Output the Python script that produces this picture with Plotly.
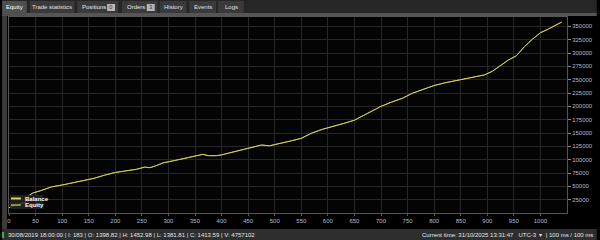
import plotly.graph_objects as go

# ---- data ----
trade_index = [0, 10, 20, 30, 38, 45, 60, 80, 100, 120, 140, 160, 180, 200, 220, 240, 255, 265,
               275, 290, 310, 330, 350, 365, 375, 390, 400, 420, 440, 460, 475, 490, 510, 530,
               550, 570, 590, 610, 630, 650, 670, 690, 700, 720, 740, 760, 780, 800, 820, 840,
               860, 880, 895, 910, 925, 940, 955, 970, 985, 1000, 1015, 1025, 1040]
balance = [10000, 13000, 16000, 20000, 33000, 37500, 42000, 49000, 52500, 56500, 60500, 65000,
           71000, 76000, 79000, 82000, 86000, 85000, 88000, 94000, 98000, 102000, 106000, 110000,
           107500, 107500, 109000, 114000, 119000, 124000, 127500, 126000, 130000, 135000,
           140000, 150000, 157000, 162000, 168000, 174000, 185000, 196000, 200000, 208000,
           215000, 225000, 232000, 239000, 244000, 248000, 251000, 255000, 259000, 266000,
           276000, 287000, 295000, 312000, 326000, 338000, 345000, 350000, 358000]
equity = [10000, 13000, 16000, 20000, 33000, 37500, 42000, 49000, 52500, 56500, 60500, 65000,
          71000, 76000, 79000, 82000, 86000, 85000, 88000, 94000, 98000, 102000, 106000, 110000,
          107500, 107500, 109000, 114000, 119000, 124000, 127500, 126000, 130000, 135000,
          140000, 150000, 157000, 162000, 168000, 174000, 185000, 196000, 200000, 208000,
          215000, 225000, 232000, 239000, 244000, 248000, 251000, 255000, 259000, 266000,
          276000, 287000, 295000, 312000, 326000, 338000, 345000, 350000, 358000]

series_names = ["Balance", "Equity"]
series_colors = ["#d6d64a", "#8e8e4e"]

x_ticks = list(range(0, 1001, 50))
y_ticks = list(range(25000, 350001, 25000))

tabs = ["Equity", "Trade statistics", "Positions", "Orders", "History", "Events", "Logs"]
tab_badges = {"Positions": "0", "Orders": "3"}
status_left = "30/08/2019 18:00:00 | I: 183 | O: 1398.82 | H: 1452.98 | L: 1381.81 | C: 1413.59 | V: 4757102"
status_right = "Current time: 31/10/2025 13:31:47   UTC-3  \u25be  | 100 ms / 100 ms"

# ---- layout geometry (pixels) ----
W, H = 600, 240
L, R, T, B = 7, 30, 17, 27
PW, PH = W - L - R, H - T - B


def px(x):
    return (x - L) / PW


def py(y):
    return 1 - (y - T) / PH


FONT = "Liberation Sans, Arial, sans-serif"

fig = go.Figure()
fig.add_trace(go.Scatter(x=trade_index, y=equity, name=series_names[1], mode="lines",
                         line=dict(color=series_colors[1], width=1), showlegend=False))
fig.add_trace(go.Scatter(x=trade_index, y=balance, name=series_names[0], mode="lines",
                         line=dict(color=series_colors[0], width=1), showlegend=False))

shapes = []
annotations = []
# tab bar background
shapes.append(dict(type="rect", xref="paper", yref="paper", x0=px(0), x1=px(W), y0=py(13), y1=py(0),
                   fillcolor="#262626", line_width=0, layer="below"))
# strip under tabs
shapes.append(dict(type="rect", xref="paper", yref="paper", x0=px(0), x1=px(W), y0=py(16), y1=py(13),
                   fillcolor="#555555", line_width=0, layer="below"))
# left border
shapes.append(dict(type="rect", xref="paper", yref="paper", x0=px(0), x1=px(5), y0=py(229), y1=py(16),
                   fillcolor="#3a3a3a", line_width=0, layer="below"))
# status bar
shapes.append(dict(type="rect", xref="paper", yref="paper", x0=px(0), x1=px(W), y0=py(H), y1=py(229),
                   fillcolor="#2e2e2e", line_width=0, layer="below"))

tab_pos = [(0, 25), (28, 73), (76, 117), (121, 157), (159, 186), (189, 216), (218, 244)]
for name, (a, b) in zip(tabs, tab_pos):
    active = name == "Equity"
    shapes.append(dict(type="rect", xref="paper", yref="paper", x0=px(a), x1=px(b),
                       y0=py(13 if not active else 16), y1=py(1),
                       fillcolor="#4f4f4f" if active else "#3a3a3a", line_width=0, layer="below"))
    if name in tab_badges:
        annotations.append(dict(xref="paper", yref="paper", x=px(a + 3), y=py(7.5), xanchor="left",
                                yanchor="middle", text=name, showarrow=False,
                                font=dict(family=FONT, size=6, color="#e8e8e8")))
        shapes.append(dict(type="rect", xref="paper", yref="paper", x0=px(b - 11), x1=px(b - 3),
                           y0=py(11), y1=py(4), fillcolor="#b8b8b8", line_width=0, layer="below"))
        annotations.append(dict(xref="paper", yref="paper", x=px(b - 7), y=py(7.5), xanchor="center",
                                yanchor="middle", text=tab_badges[name], showarrow=False,
                                font=dict(family=FONT, size=6, color="#333333")))
    else:
        annotations.append(dict(xref="paper", yref="paper", x=px((a + b) / 2), y=py(7.5),
                                xanchor="center", yanchor="middle", text=name, showarrow=False,
                                font=dict(family=FONT, size=6, color="#ffffff" if active else "#e0e0e0")))

# compact legend (bottom-left inside plot)
shapes.append(dict(type="rect", xref="paper", yref="paper", x0=px(8), x1=px(42), y0=py(209), y1=py(195),
                   fillcolor="rgba(38,38,38,0.85)", line_width=0))
for i, (nm, col) in enumerate(zip(series_names, series_colors)):
    yy = 198.5 + i * 6.5
    shapes.append(dict(type="line", xref="paper", yref="paper", x0=px(9), x1=px(19), y0=py(yy), y1=py(yy),
                       line=dict(color=col, width=2)))
    annotations.append(dict(xref="paper", yref="paper", x=px(21), y=py(yy), xanchor="left", yanchor="middle",
                            text="<b>%s</b>" % nm, showarrow=False,
                            font=dict(family=FONT, size=6, color="#ffffff")))

# status bar texts
shapes.append(dict(type="rect", xref="paper", yref="paper", x0=px(0), x1=px(2), y0=py(238), y1=py(232),
                   fillcolor="#3cb043", line_width=0))
annotations.append(dict(xref="paper", yref="paper", x=px(4), y=py(235), xanchor="left", yanchor="middle",
                        text=status_left, showarrow=False, font=dict(family=FONT, size=6, color="#e6e6e6")))
annotations.append(dict(xref="paper", yref="paper", x=px(598), y=py(235), xanchor="right", yanchor="middle",
                        text=status_right, showarrow=False, font=dict(family=FONT, size=6, color="#e6e6e6")))

fig.update_layout(
    width=W, height=H,
    margin=dict(l=L, r=R, t=T, b=B, pad=0),
    paper_bgcolor="#000000",
    plot_bgcolor="#040404",
    shapes=shapes,
    annotations=annotations,
    showlegend=False,
    xaxis=dict(range=[0, 1050], tickvals=x_ticks, ticktext=[str(v) for v in x_ticks],
               showgrid=True, gridcolor="#262626", gridwidth=1, zeroline=False,
               showline=True, linecolor="#555555", linewidth=1, mirror=True,
               ticks="outside", ticklen=2, tickcolor="#555555",
               tickfont=dict(family=FONT, size=6, color="#b4bccc")),
    yaxis=dict(range=[0, 367500], tickvals=y_ticks, ticktext=[str(v) for v in y_ticks],
               side="right", showgrid=True, gridcolor="#262626", gridwidth=1, zeroline=False,
               showline=True, linecolor="#555555", linewidth=1, mirror=True,
               ticks="outside", ticklen=3, tickcolor="#888888",
               tickfont=dict(family=FONT, size=6, color="#b4bccc")),
)

fig.write_html("out.html")
